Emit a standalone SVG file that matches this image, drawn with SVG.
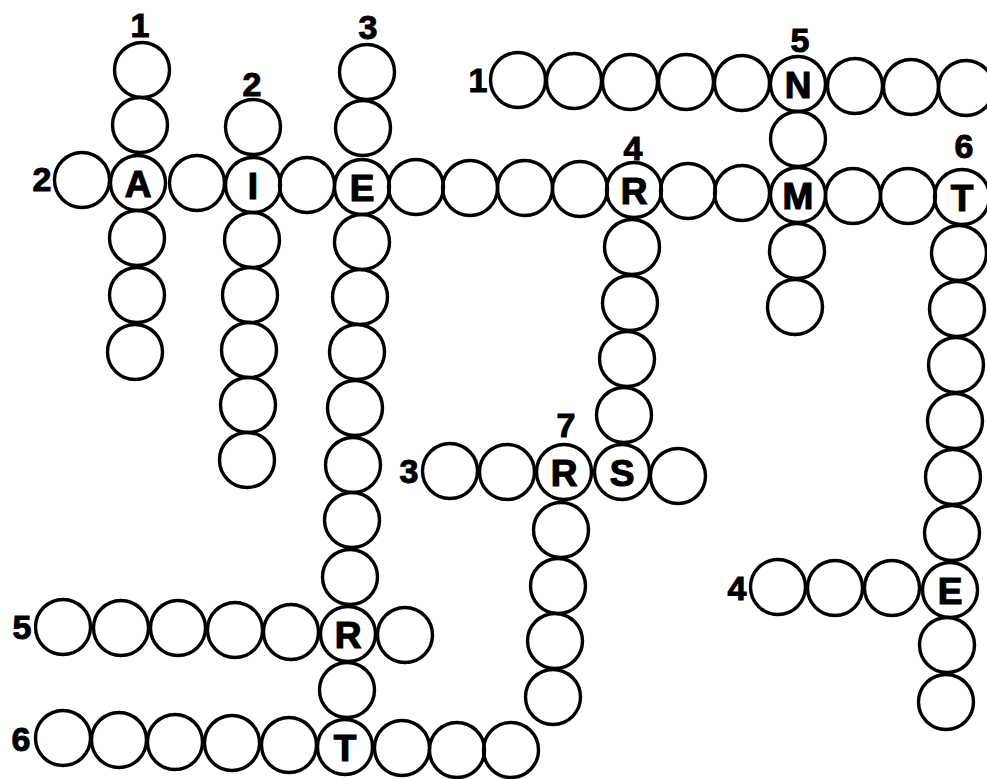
<svg xmlns="http://www.w3.org/2000/svg" width="987" height="779" viewBox="0 0 987 779">
<style>
.c{fill:none;stroke:#000;stroke-width:3.4}
.l{font-family:"Liberation Sans",Arial,sans-serif;font-weight:bold;font-size:37px;text-anchor:middle;fill:#000;stroke:#000;stroke-width:1.2}
.n{font-family:"Liberation Sans",Arial,sans-serif;font-weight:bold;font-size:34px;text-anchor:middle;fill:#000;stroke:#000;stroke-width:1}
</style>
<rect width="987" height="779" fill="#fff"/>
<g id="nodes">
<!-- Across 2 -->
<g id="r2c1"><circle class="c" cx="82" cy="180" r="27.5"/></g>
<g id="r2c2"><circle class="c" cx="138" cy="183" r="27.5"/><text class="l" x="138" y="196.5">A</text></g>
<g id="r2c3"><circle class="c" cx="197" cy="183" r="27.5"/></g>
<g id="r2c4"><circle class="c" cx="253" cy="185" r="27.5"/><text class="l" x="253" y="198.5">I</text></g>
<g id="r2c5"><circle class="c" cx="307" cy="185" r="27.5"/></g>
<g id="r2c6"><circle class="c" cx="362" cy="187" r="27.5"/><text class="l" x="362" y="200.5">E</text></g>
<g id="r2c7"><circle class="c" cx="416" cy="187" r="27.5"/></g>
<g id="r2c8"><circle class="c" cx="470" cy="188" r="27.5"/></g>
<g id="r2c9"><circle class="c" cx="525" cy="188" r="27.5"/></g>
<g id="r2c10"><circle class="c" cx="580" cy="189" r="27.5"/></g>
<g id="r2c11"><circle class="c" cx="634" cy="190" r="27.5"/><text class="l" x="634" y="203.5">R</text></g>
<g id="r2c12"><circle class="c" cx="688" cy="191" r="27.5"/></g>
<g id="r2c13"><circle class="c" cx="742" cy="193" r="27.5"/></g>
<g id="r2c14"><circle class="c" cx="798" cy="195" r="27.5"/><text class="l" x="798" y="208.5">M</text></g>
<g id="r2c15"><circle class="c" cx="853" cy="196" r="27.5"/></g>
<g id="r2c16"><circle class="c" cx="908" cy="196" r="27.5"/></g>
<g id="r2c17"><circle class="c" cx="962" cy="197" r="27.5"/><text class="l" x="962" y="210.5">T</text></g>
<!-- Down 1 -->
<g id="d1c1"><circle class="c" cx="142" cy="70" r="27.5"/></g>
<g id="d1c2"><circle class="c" cx="140" cy="125" r="27.5"/></g>
<g id="d1c4"><circle class="c" cx="137" cy="238" r="27.5"/></g>
<g id="d1c5"><circle class="c" cx="137" cy="295" r="27.5"/></g>
<g id="d1c6"><circle class="c" cx="135" cy="352" r="27.5"/></g>
<!-- Down 2 -->
<g id="d2c1"><circle class="c" cx="253" cy="127" r="27.5"/></g>
<g id="d2c3"><circle class="c" cx="252" cy="240" r="27.5"/></g>
<g id="d2c4"><circle class="c" cx="250" cy="295" r="27.5"/></g>
<g id="d2c5"><circle class="c" cx="249" cy="350" r="27.5"/></g>
<g id="d2c6"><circle class="c" cx="248" cy="405" r="27.5"/></g>
<g id="d2c7"><circle class="c" cx="247" cy="460" r="27.5"/></g>
<!-- Down 3 -->
<g id="d3c1"><circle class="c" cx="367" cy="72" r="27.5"/></g>
<g id="d3c2"><circle class="c" cx="363" cy="128" r="27.5"/></g>
<g id="d3c4"><circle class="c" cx="362" cy="242" r="27.5"/></g>
<g id="d3c5"><circle class="c" cx="360" cy="297" r="27.5"/></g>
<g id="d3c6"><circle class="c" cx="357" cy="352" r="27.5"/></g>
<g id="d3c7"><circle class="c" cx="355" cy="408" r="27.5"/></g>
<g id="d3c8"><circle class="c" cx="353" cy="465" r="27.5"/></g>
<g id="d3c9"><circle class="c" cx="352" cy="520" r="27.5"/></g>
<g id="d3c10"><circle class="c" cx="350" cy="577" r="27.5"/></g>
<g id="d3c11"><circle class="c" cx="348" cy="634" r="27.5"/><text class="l" x="348" y="647.5">R</text></g>
<g id="d3c12"><circle class="c" cx="347" cy="690" r="27.5"/></g>
<g id="d3c13"><circle class="c" cx="345" cy="747" r="27.5"/><text class="l" x="345" y="760.5">T</text></g>
<!-- Across 5 -->
<g id="a5c1"><circle class="c" cx="63" cy="627" r="27.5"/></g>
<g id="a5c2"><circle class="c" cx="121" cy="628" r="27.5"/></g>
<g id="a5c3"><circle class="c" cx="178" cy="628" r="27.5"/></g>
<g id="a5c4"><circle class="c" cx="235" cy="630" r="27.5"/></g>
<g id="a5c5"><circle class="c" cx="291" cy="632" r="27.5"/></g>
<g id="a5c7"><circle class="c" cx="405" cy="635" r="27.5"/></g>
<!-- Across 6 -->
<g id="a6c1"><circle class="c" cx="63" cy="738" r="27.5"/></g>
<g id="a6c2"><circle class="c" cx="119" cy="740" r="27.5"/></g>
<g id="a6c3"><circle class="c" cx="175" cy="742" r="27.5"/></g>
<g id="a6c4"><circle class="c" cx="232" cy="743" r="27.5"/></g>
<g id="a6c5"><circle class="c" cx="289" cy="745" r="27.5"/></g>
<g id="a6c7"><circle class="c" cx="402" cy="748" r="27.5"/></g>
<g id="a6c8"><circle class="c" cx="457" cy="750" r="27.5"/></g>
<g id="a6c9"><circle class="c" cx="511" cy="750" r="27.5"/></g>
<!-- Down 4 -->
<g id="d4c2"><circle class="c" cx="632" cy="247" r="27.5"/></g>
<g id="d4c3"><circle class="c" cx="630" cy="303" r="27.5"/></g>
<g id="d4c4"><circle class="c" cx="627" cy="359" r="27.5"/></g>
<g id="d4c5"><circle class="c" cx="624" cy="415" r="27.5"/></g>
<g id="d4c6"><circle class="c" cx="622" cy="472" r="27.5"/><text class="l" x="622" y="485.5">S</text></g>
<!-- Across 3 -->
<g id="a3c1"><circle class="c" cx="450" cy="471" r="27.5"/></g>
<g id="a3c2"><circle class="c" cx="507" cy="472" r="27.5"/></g>
<g id="a3c3"><circle class="c" cx="564" cy="472" r="27.5"/><text class="l" x="564" y="485.5">R</text></g>
<g id="a3c5"><circle class="c" cx="678" cy="476" r="27.5"/></g>
<!-- Down 7 -->
<g id="d7c2"><circle class="c" cx="561" cy="530" r="27.5"/></g>
<g id="d7c3"><circle class="c" cx="558" cy="586" r="27.5"/></g>
<g id="d7c4"><circle class="c" cx="555" cy="641" r="27.5"/></g>
<g id="d7c5"><circle class="c" cx="553" cy="697" r="27.5"/></g>
<!-- Across 1 -->
<g id="a1c1"><circle class="c" cx="518" cy="80" r="27.5"/></g>
<g id="a1c2"><circle class="c" cx="574" cy="81" r="27.5"/></g>
<g id="a1c3"><circle class="c" cx="630" cy="82" r="27.5"/></g>
<g id="a1c4"><circle class="c" cx="686" cy="82" r="27.5"/></g>
<g id="a1c5"><circle class="c" cx="742" cy="83" r="27.5"/></g>
<g id="a1c6"><circle class="c" cx="798" cy="84" r="27.5"/><text class="l" x="798" y="97.5">N</text></g>
<g id="a1c7"><circle class="c" cx="855" cy="86" r="27.5"/></g>
<g id="a1c8"><circle class="c" cx="911" cy="87" r="27.5"/></g>
<g id="a1c9"><circle class="c" cx="966" cy="88" r="27.5"/></g>
<!-- Down 5 -->
<g id="d5c2"><circle class="c" cx="798" cy="139" r="27.5"/></g>
<g id="d5c4"><circle class="c" cx="797" cy="251" r="27.5"/></g>
<g id="d5c5"><circle class="c" cx="795" cy="307" r="27.5"/></g>
<!-- Down 6 -->
<g id="d6c2"><circle class="c" cx="959" cy="253" r="27.5"/></g>
<g id="d6c3"><circle class="c" cx="957" cy="309" r="27.5"/></g>
<g id="d6c4"><circle class="c" cx="956" cy="365" r="27.5"/></g>
<g id="d6c5"><circle class="c" cx="955" cy="421" r="27.5"/></g>
<g id="d6c6"><circle class="c" cx="953" cy="477" r="27.5"/></g>
<g id="d6c7"><circle class="c" cx="952" cy="533" r="27.5"/></g>
<g id="d6c8"><circle class="c" cx="950" cy="590" r="27.5"/><text class="l" x="950" y="603.5">E</text></g>
<g id="d6c9"><circle class="c" cx="947" cy="645" r="27.5"/></g>
<g id="d6c10"><circle class="c" cx="946" cy="702" r="27.5"/></g>
<!-- Across 4 -->
<g id="a4c1"><circle class="c" cx="778" cy="587" r="27.5"/></g>
<g id="a4c2"><circle class="c" cx="835" cy="588" r="27.5"/></g>
<g id="a4c3"><circle class="c" cx="892" cy="588" r="27.5"/></g>
</g>
<g id="numbers">
<text class="n" x="140" y="37">1</text>
<text class="n" x="252" y="96">2</text>
<text class="n" x="368" y="39">3</text>
<text class="n" x="633" y="160">4</text>
<text class="n" x="800" y="52">5</text>
<text class="n" x="964" y="158">6</text>
<text class="n" x="566" y="437">7</text>
<text class="n" x="478" y="92">1</text>
<text class="n" x="42" y="191">2</text>
<text class="n" x="409" y="483">3</text>
<text class="n" x="737" y="600">4</text>
<text class="n" x="22" y="639">5</text>
<text class="n" x="21" y="751">6</text>
</g>
</svg>
